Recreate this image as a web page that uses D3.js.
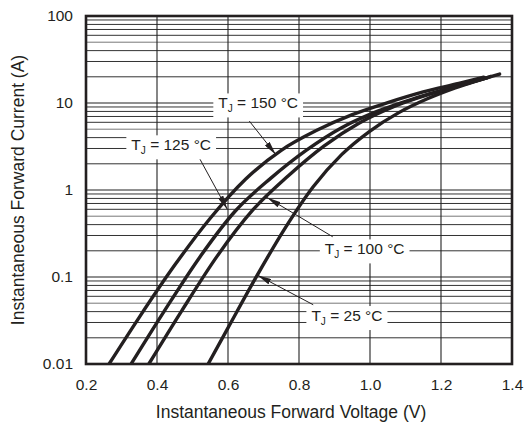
<!DOCTYPE html>
<html>
<head>
<meta charset="utf-8">
<script src="https://cdn.jsdelivr.net/npm/d3@7"></script>
<style>
  body { margin: 0; background: #fff; }
  text { font-family: "Liberation Sans", Arial, sans-serif; fill: #231f20; }
</style>
</head>
<body>
<div class="chart"></div>
<script>
// forward voltage (V) / current (A)
const v150 = [0.265, 0.35, 0.45, 0.55, 0.65, 0.75, 0.85, 0.95, 1.05, 1.15, 1.25, 1.32];
const i150 = [0.01, 0.0344, 0.137, 0.474, 1.34, 2.86, 4.85, 7.35, 10.1, 13.4, 16.8, 19.8];
const v125 = [0.327, 0.42, 0.52, 0.62, 0.72, 0.82, 0.92, 1.02, 1.12, 1.22, 1.33];
const i125 = [0.01, 0.0403, 0.168, 0.57, 1.36, 2.85, 5.2, 8.0, 11.1, 14.6, 19.5];
const v100 = [0.377, 0.47, 0.57, 0.67, 0.77, 0.87, 0.97, 1.07, 1.17, 1.27, 1.34];
const i100 = [0.01, 0.0411, 0.175, 0.59, 1.46, 3.2, 5.9, 9.2, 12.7, 16.6, 20.2];
const v25 = [0.544, 0.60, 0.68, 0.76, 0.84, 0.92, 1.00, 1.08, 1.16, 1.24, 1.365];
const i25 = [0.01, 0.026, 0.101, 0.36, 1.09, 2.55, 4.76, 7.7, 11.1, 14.9, 21.5];

const xTicks = [0.2, 0.4, 0.6, 0.8, 1.0, 1.2, 1.4];
const yTicks = [0.01, 0.1, 1, 10, 100];
const yTickLabels = ["0.01", "0.1", "1", "10", "100"];

const W = 527, H = 424;
const margin = {top: 16, right: 15, bottom: 60, left: 86};
const width = W - margin.left - margin.right;
const height = H - margin.top - margin.bottom;

const svg = d3.select(".chart").append("svg")
    .attr("width", W).attr("height", H);
const g = svg.append("g")
    .attr("transform", `translate(${margin.left},${margin.top})`);

const x = d3.scaleLinear().domain([0.2, 1.4]).range([0, width]);
const y = d3.scaleLog().domain([0.01, 100]).range([height, 0]);

// grid: minor log lines first, then decades and verticals
const minor = [];
[0.01, 0.1, 1, 10].forEach(d => {
    for (let k = 2; k <= 9; k++) minor.push({v: d * k, k: k});
});
g.selectAll(".minor").data(minor).enter().append("line")
    .attr("x1", 0).attr("x2", width)
    .attr("y1", d => y(d.v)).attr("y2", d => y(d.v))
    .attr("stroke", d => d.k === 5 ? "#777" : "#333")
    .attr("stroke-width", 1);
g.selectAll(".major").data(yTicks).enter().append("line")
    .attr("x1", 0).attr("x2", width)
    .attr("y1", d => y(d)).attr("y2", d => y(d))
    .attr("stroke", "#222").attr("stroke-width", 1.2);
g.selectAll(".vgrid").data(xTicks).enter().append("line")
    .attr("x1", d => x(d)).attr("x2", d => x(d))
    .attr("y1", 0).attr("y2", height)
    .attr("stroke", "#222").attr("stroke-width", 1.1);

// axes (labels only, frame drawn below)
const xAxis = d3.axisBottom(x).tickValues(xTicks).tickFormat(d3.format(".1f")).tickSize(0).tickPadding(15);
const yAxis = d3.axisLeft(y).tickValues(yTicks).tickFormat((d, i) => yTickLabels[i]).tickSize(0).tickPadding(13);
g.append("g").attr("transform", `translate(0,${height})`).call(xAxis)
    .call(a => a.select(".domain").remove())
    .selectAll("text").style("font-size", "15.5px").attr("fill", "#231f20");
g.append("g").call(yAxis)
    .call(a => a.select(".domain").remove())
    .selectAll("text").style("font-size", "15.5px").attr("fill", "#231f20");

// curves
const series = [
    {name: "150", v: v150, i: i150},
    {name: "125", v: v125, i: i125},
    {name: "100", v: v100, i: i100},
    {name: "25", v: v25, i: i25}
];
const line = d3.line()
    .x(d => x(d[0])).y(d => y(d[1]))
    .curve(d3.curveMonotoneX);
g.append("clipPath").attr("id", "plot").append("rect")
    .attr("width", width).attr("height", height);
g.selectAll(".curve").data(series).enter().append("path")
    .attr("clip-path", "url(#plot)")
    .attr("d", s => line(s.v.map((v, k) => [v, s.i[k]])))
    .attr("fill", "none").attr("stroke", "#231f20")
    .attr("stroke-width", 3.4).attr("stroke-linecap", "round");

// frame
g.append("rect").attr("width", width).attr("height", height)
    .attr("fill", "none").attr("stroke", "#231f20").attr("stroke-width", 2.6);

// labels with arrows: label centre (in data units) and arrow target on its curve
const labels = [
    {name: "150", lx: 0.685, ly: 10, from: [0.66, 6.2], to: [0.735, 2.55]},
    {name: "125", lx: 0.44, ly: 3.3, from: [0.52, 2.3], to: [0.598, 0.6]},
    {name: "100", lx: 0.985, ly: 0.21, from: [0.895, 0.29], to: [0.71, 0.82]},
    {name: "25", lx: 0.935, ly: 0.036, from: [0.84, 0.048], to: [0.683, 0.105]}
];
const defs = svg.append("defs");
defs.append("marker").attr("id", "head")
    .attr("viewBox", "0 0 14 6").attr("refX", 14).attr("refY", 3)
    .attr("markerWidth", 14).attr("markerHeight", 6)
    .attr("markerUnits", "userSpaceOnUse").attr("orient", "auto")
    .append("path").attr("d", "M0,0 L14,3 L0,6 Z").attr("fill", "#231f20");

labels.forEach(l => {
    g.append("line")
        .attr("x1", x(l.from[0])).attr("y1", y(l.from[1]))
        .attr("x2", x(l.to[0])).attr("y2", y(l.to[1]))
        .attr("stroke", "#231f20").attr("stroke-width", 1)
        .attr("marker-end", "url(#head)");
    const lab = g.append("g").attr("transform", `translate(${x(l.lx)},${y(l.ly)})`);
    const bg = lab.append("rect").attr("fill", "#fff");
    const t = lab.append("text").attr("text-anchor", "middle").attr("dy", "0.35em")
        .style("font-size", "15.5px");
    t.append("tspan").text("T");
    t.append("tspan").attr("dy", "4").style("font-size", "10px").text("J");
    t.append("tspan").attr("dy", "-4").text(" = " + l.name + " \u00B0C");
    const bb = t.node().getBBox();
    bg.attr("x", bb.x - 5).attr("y", bb.y - 1).attr("width", bb.width + 10).attr("height", bb.height + 4);
});

// axis titles
svg.append("text").attr("x", margin.left + width / 2 - 8).attr("y", 418)
    .attr("text-anchor", "middle").style("font-size", "17.5px")
    .text("Instantaneous Forward Voltage (V)");
svg.append("text")
    .attr("transform", `translate(18,${margin.top + height / 2}) rotate(-90)`)
    .attr("text-anchor", "middle").attr("dy", "0.35em").style("font-size", "17.5px")
    .text("Instantaneous Forward Current (A)");
</script>
</body>
</html>
